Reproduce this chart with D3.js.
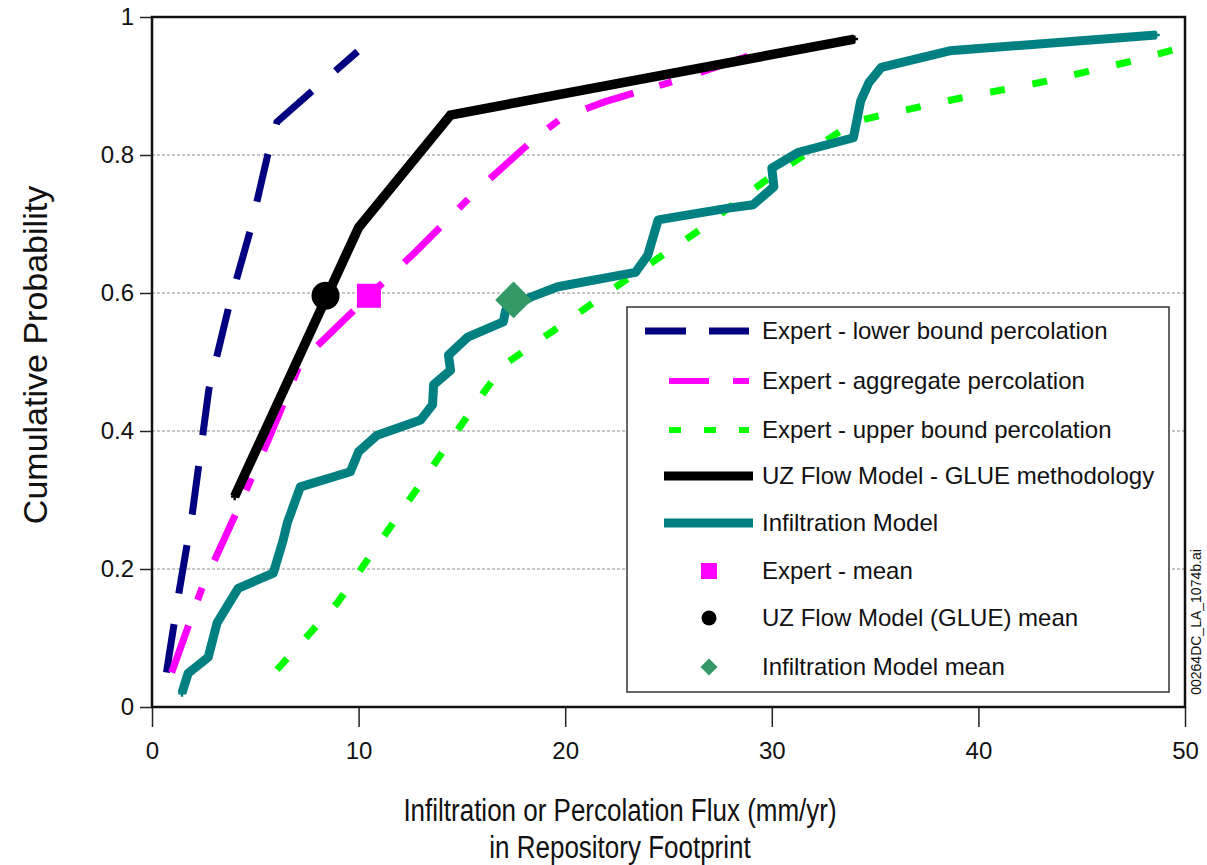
<!DOCTYPE html>
<html><head><meta charset="utf-8">
<script src="https://cdn.jsdelivr.net/npm/d3@7"></script>
<style>
html,body{margin:0;padding:0;background:#fff;}
svg{display:block;font-family:"Liberation Sans",Arial,sans-serif;}
</style></head>
<body><svg id="chart" width="1207" height="865"></svg>
<script>
// ---- data (x = flux mm/yr, y = cumulative probability) ----
const xTicks = [0, 10, 20, 30, 40, 50];
const yTicks = [0, 0.2, 0.4, 0.6, 0.8, 1];
const yTickLabels = ["0", "0.2", "0.4", "0.6", "0.8", "1"];
const gridValues = [0.2, 0.4, 0.6, 0.8];

const lowerBound = [[0.7,0.05],[1.3,0.165],[1.95,0.28],[2.75,0.46],[3.7,0.578],[4.75,0.69],[5.6,0.80],[6.05,0.848],[9.95,0.95]];
const aggregate = [[0.95,0.05],[2.45,0.175],[4.1,0.283],[5.6,0.385],[7.2,0.5],[10.5,0.596],[12.7,0.658],[15.6,0.745],[18.6,0.826],[19.9,0.855],[21.9,0.877],[25.6,0.91],[29.7,0.952]];
const upperBound = [[6.05,0.054],[9.0,0.152],[11.4,0.255],[13.8,0.358],[16.2,0.462],[17.1,0.497],[19.45,0.546],[22.8,0.616],[26.3,0.687],[29.6,0.761],[34.0,0.848],[35.2,0.857],[39.2,0.883],[43.3,0.907],[47.4,0.936],[50,0.957]];
const glue = [[4.0,0.305],[10.0,0.695],[14.45,0.858],[34.0,0.968]];
const infiltration = [[1.45,0.02],[1.75,0.049],[2.72,0.072],[3.15,0.122],[4.17,0.172],[5.87,0.194],[6.35,0.242],[6.55,0.267],[7.18,0.319],[9.6,0.341],[10.0,0.37],[10.9,0.394],[13.0,0.416],[13.58,0.438],[13.63,0.467],[14.45,0.488],[14.35,0.51],[15.28,0.536],[17.0,0.558],[17.12,0.575],[18.33,0.594],[19.64,0.609],[23.4,0.63],[24.0,0.655],[24.5,0.706],[27.9,0.723],[29.1,0.728],[30.1,0.754],[30.0,0.781],[31.3,0.804],[33.95,0.825],[34.3,0.878],[34.7,0.905],[35.3,0.927],[38.6,0.951],[48.6,0.974]];

const expertMean = [10.5, 0.596];
const glueMean = [8.4, 0.596];
const infilMean = [17.5, 0.59];

const legendLabels = ["Expert - lower bound percolation","Expert - aggregate percolation","Expert - upper bound percolation","UZ Flow Model - GLUE methodology","Infiltration Model","Expert - mean","UZ Flow Model (GLUE) mean","Infiltration Model mean"];

// ---- layout ----
const svg = d3.select("#chart");
const L = 152, R = 1185, T = 17, B = 707;
const x = d3.scaleLinear().domain([0, 50]).range([L, R]);
const y = d3.scaleLinear().domain([0, 1]).range([B, T]);

// gridlines
svg.append("g").selectAll("line").data(gridValues).join("line")
  .attr("x1", L).attr("x2", R).attr("y1", d => y(d)).attr("y2", d => y(d))
  .attr("stroke", "#8a8a8a").attr("stroke-width", 1).attr("stroke-dasharray", "3,2");

// axes
const xAxis = svg.append("g").attr("transform", `translate(0,${B})`)
  .call(d3.axisBottom(x).tickValues(xTicks).tickSize(20).tickPadding(10).tickFormat(d3.format("d")));
const yAxis = svg.append("g").attr("transform", `translate(${L},0)`)
  .call(d3.axisLeft(y).tickValues(yTicks).tickSize(12).tickPadding(6).tickFormat((d,i) => yTickLabels[i]));
[xAxis, yAxis].forEach(a => {
  a.select(".domain").remove();
  a.selectAll(".tick line").attr("stroke", "#222").attr("stroke-width", 1.5);
  a.selectAll("text").attr("fill", "#111").style("font-size", "24px").style("font-family", "'Liberation Sans',Arial,sans-serif");
});
xAxis.selectAll("text").attr("dy", "0.9em");

// frame
svg.append("rect").attr("x", L).attr("y", T).attr("width", R - L).attr("height", B - T)
  .attr("fill", "none").attr("stroke", "#111").attr("stroke-width", 2.5);

const line = d3.line().x(d => x(d[0])).y(d => y(d[1]));
const plot = svg.append("g");

plot.append("path").datum(lowerBound).attr("d", line).attr("fill","none")
  .attr("stroke","#000080").attr("stroke-width",7).attr("stroke-dasharray","49,31");
plot.append("path").datum(aggregate).attr("d", line).attr("fill","none")
  .attr("stroke","#ff00ff").attr("stroke-width",7).attr("stroke-dasharray","50,27,13,30");
plot.append("path").datum(upperBound).attr("d", line).attr("fill","none")
  .attr("stroke","#00ff00").attr("stroke-width",7).attr("stroke-dasharray","15,28");
plot.append("path").datum(glue).attr("d", line).attr("fill","none")
  .attr("stroke","#000").attr("stroke-width",9.5).attr("stroke-linejoin","miter");
plot.append("path").datum(infiltration).attr("d", line).attr("fill","none")
  .attr("stroke","#008080").attr("stroke-width",9).attr("stroke-linejoin","round");

// small vertex ticks
const cross = d3.symbol().type(d3.symbolCross).size(30);
plot.append("g").selectAll("path").data(infiltration).join("path")
  .attr("transform", d => `translate(${x(d[0])},${y(d[1])})`).attr("d", cross).attr("fill","#008080");
plot.append("g").selectAll("path").data(glue).join("path")
  .attr("transform", d => `translate(${x(d[0])},${y(d[1])})`).attr("d", cross).attr("fill","#000");

// means
plot.append("rect").attr("x", x(expertMean[0]) - 12).attr("y", y(expertMean[1]) - 12)
  .attr("width", 24).attr("height", 24).attr("fill", "#ff00ff");
plot.append("circle").attr("cx", x(glueMean[0])).attr("cy", y(glueMean[1])).attr("r", 14).attr("fill", "#000");
plot.append("rect").attr("x", -13).attr("y", -13).attr("width", 26).attr("height", 26)
  .attr("fill", "#339966").attr("transform", `translate(${x(infilMean[0])},${y(infilMean[1])}) rotate(45)`);

// legend
const lg = svg.append("g");
lg.append("rect").attr("x", 627).attr("y", 307).attr("width", 542).attr("height", 385)
  .attr("fill", "#fff").attr("stroke", "#333").attr("stroke-width", 1.5);
const rowsY = [331, 381, 430, 476, 523, 571, 618, 667];
const styles = [
  {type:"line", c:"#000080", w:7, dash:"41,23", x1:645, x2:749},
  {type:"line", c:"#ff00ff", w:6, dash:"40,24,16,100", x1:669, x2:749},
  {type:"line", c:"#00ff00", w:6, dash:"12,23", x1:669, x2:749},
  {type:"line", c:"#000", w:9, dash:null, x1:664, x2:753},
  {type:"line", c:"#008080", w:9, dash:null, x1:664, x2:753},
  {type:"square", c:"#ff00ff"},
  {type:"circle", c:"#000"},
  {type:"diamond", c:"#339966"}
];
styles.forEach((s, i) => {
  const yy = rowsY[i];
  if (s.type === "line") {
    lg.append("line").attr("x1", s.x1).attr("x2", s.x2).attr("y1", yy).attr("y2", yy)
      .attr("stroke", s.c).attr("stroke-width", s.w).attr("stroke-dasharray", s.dash);
  } else if (s.type === "square") {
    lg.append("rect").attr("x", 701).attr("y", yy - 8).attr("width", 16).attr("height", 16).attr("fill", s.c);
  } else if (s.type === "circle") {
    lg.append("circle").attr("cx", 709).attr("cy", yy).attr("r", 7.5).attr("fill", s.c);
  } else {
    lg.append("rect").attr("x", -6).attr("y", -6).attr("width", 12).attr("height", 12)
      .attr("fill", s.c).attr("transform", `translate(709,${yy}) rotate(45)`);
  }
  lg.append("text").attr("x", 762).attr("y", yy).attr("dy", "0.35em")
    .style("font-size", "24px").attr("fill", "#111").text(legendLabels[i]);
});

// axis titles
svg.append("text").attr("x", 620).attr("y", 821).attr("text-anchor", "middle")
  .style("font-size", "26px").attr("transform", "translate(620,821) scale(1,1.2) translate(-620,-821)")
  .attr("fill", "#111").text("Infiltration or Percolation Flux (mm/yr)");
svg.append("text").attr("x", 620).attr("y", 858).attr("text-anchor", "middle")
  .style("font-size", "26px").attr("transform", "translate(620,858) scale(1,1.2) translate(-620,-858)")
  .attr("fill", "#111").text("in Repository Footprint");
svg.append("text").attr("transform", "translate(47,355) rotate(-90)").attr("text-anchor", "middle")
  .style("font-size", "34px").attr("fill", "#111").text("Cumulative Probability");

// file tag
svg.append("text").attr("transform", "translate(1201,622) rotate(-90)").attr("text-anchor", "middle")
  .style("font-size", "14px").attr("fill", "#111").text("00264DC_LA_1074b.ai");
</script></body></html>
